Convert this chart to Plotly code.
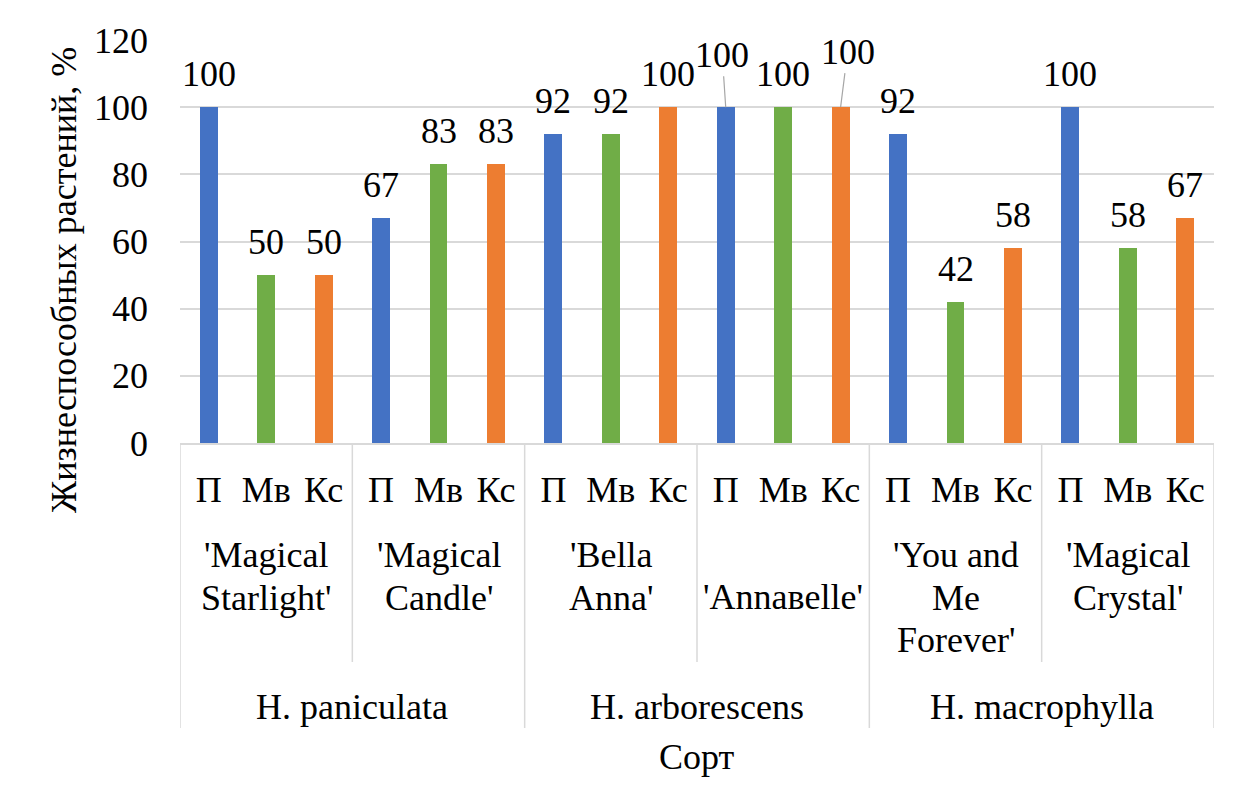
import plotly.graph_objects as go

# ---- data ----
species = ["H. paniculata", "H. arborescens", "H. macrophylla"]
varieties = ["'Magical\nStarlight'", "'Magical\nCandle'", "'Bella\nAnna'",
             "'Annaвelle'", "'You and\nMe\nForever'", "'Magical\nCrystal'"]
series_names = ["П", "Мв", "Кс"]
vals_P = [100, 67, 92, 100, 92, 100]
vals_Mv = [50, 83, 92, 100, 42, 58]
vals_Ks = [50, 83, 100, 100, 58, 67]
colors = ["#4472C4", "#70AD47", "#ED7D31"]
y_title = "Жизнеспособных растений, %"
x_title = "Сорт"

FONT = "Liberation Serif"
FS = 36
OFF = 8  # page body margin
W, H = 1245 - OFF, 803 - OFF
L, R, T, B = 180 - OFF, 1214 - OFF, 40 - OFF, 443 - OFF  # plot area in figure pixels
GRID = "#D9D9D9"


def px(xp):
    return (xp - OFF - L) / (R - L)


def py(yp):
    return (B - (yp - OFF)) / (B - T)


n_var = len(varieties)
series_vals = [vals_P, vals_Mv, vals_Ks]

fig = go.Figure()
for s, (name, vals, col) in enumerate(zip(series_names, series_vals, colors)):
    xs = [v * 3 + s for v in range(n_var)]
    fig.add_trace(go.Bar(x=xs, y=vals, name=name, marker_color=col,
                         marker_line_width=0, width=0.31, showlegend=False))


def tf(size=FS):
    return dict(family=FONT, size=size, color="black")


annotations = []
# data labels
special = {(3, 0): (-3.5, -52.5), (3, 2): (7, -55.5)}
for s, vals in enumerate(series_vals):
    for v, val in enumerate(vals):
        xi = v * 3 + s
        if (v, s) in special:
            ax, ay = special[(v, s)]
            annotations.append(dict(x=xi, y=val, xref="x", yref="y", text=str(val),
                                    showarrow=True, arrowhead=0, arrowwidth=1.2,
                                    arrowcolor="#A6A6A6", ax=ax, ay=ay, font=tf()))
        else:
            annotations.append(dict(x=xi, y=val, xref="x", yref="y", text=str(val),
                                    showarrow=False, yanchor="middle", yshift=33,
                                    font=tf()))

# variety labels (one annotation per line, Excel-like line spacing)
for v, name in enumerate(varieties):
    lines = name.split("\n")
    if len(lines) == 1:
        ys = [597]
    else:
        ys = [555 + 42.5 * i for i in range(len(lines))]
    for line, yl in zip(lines, ys):
        annotations.append(dict(x=v * 3 + 1, y=py(yl), xref="x", yref="paper",
                                text=line, showarrow=False, yanchor="middle",
                                font=tf()))

# species labels
for sp_i, sp in enumerate(species):
    annotations.append(dict(x=sp_i * 6 + 2.5, y=py(707), xref="x", yref="paper",
                            text=sp, showarrow=False, yanchor="middle", font=tf()))

# axis titles
annotations.append(dict(x=0.5, y=py(757), xref="paper", yref="paper",
                        text=x_title, showarrow=False, yanchor="middle", font=tf()))
annotations.append(dict(x=px(64), y=py(280), xref="paper", yref="paper",
                        text=y_title, showarrow=False, textangle=-90,
                        xanchor="center", yanchor="middle", font=tf()))

shapes = []
# separators
for b in range(n_var + 1):
    xb = b * 3 - 0.5
    y_end = py(728) if b % 2 == 0 else py(662)
    shapes.append(dict(type="line", xref="x", yref="paper", x0=xb, x1=xb,
                       y0=0, y1=y_end, line=dict(color=GRID, width=1.5)))
# outer border
shapes.append(dict(type="rect", xref="paper", yref="paper",
                   x0=px(7), x1=px(1243), y0=py(6), y1=py(830),
                   line=dict(color=GRID, width=1.5), fillcolor="rgba(0,0,0,0)",
                   layer="below"))

fig.update_layout(
    width=W, height=H,
    margin=dict(l=L, r=W - R, t=T, b=H - B, autoexpand=False),
    paper_bgcolor="white", plot_bgcolor="white",
    font=tf(),
    bargap=0,
    annotations=annotations,
    shapes=shapes,
    xaxis=dict(range=[-0.5, 3 * n_var - 0.5],
               tickmode="array",
               tickvals=list(range(3 * n_var)),
               ticktext=series_names * n_var,
               showgrid=False, zeroline=False,
               showline=True, linecolor=GRID, linewidth=1.5,
               ticks="", ticklabelstandoff=14, tickfont=tf()),
    yaxis=dict(range=[0, 120], dtick=20, tick0=0,
               showgrid=True, gridcolor=GRID, gridwidth=1.5,
               zeroline=False, showline=False,
               ticks="", ticklabelstandoff=31, tickfont=tf()),
)

fig.write_html("out.html")
